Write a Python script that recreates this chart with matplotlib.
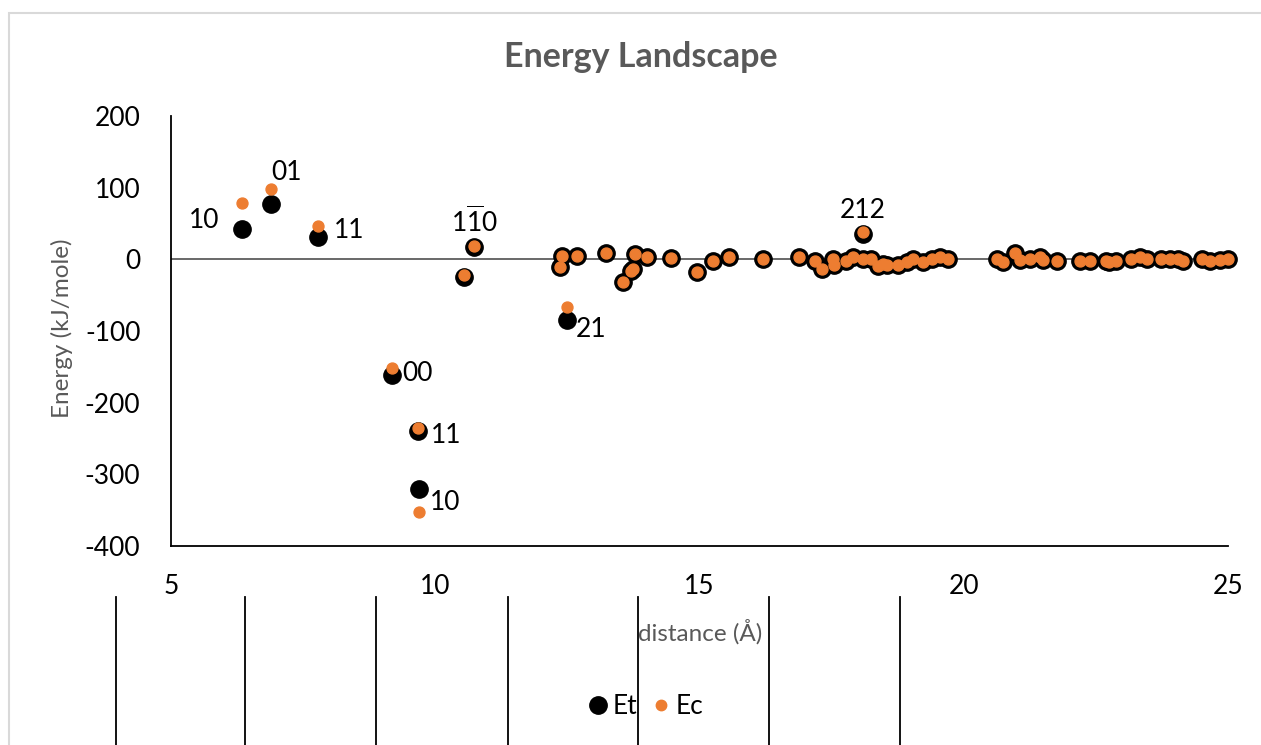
import matplotlib
matplotlib.use("Agg")
import matplotlib.pyplot as plt
from matplotlib.lines import Line2D
from matplotlib.patches import Rectangle

plt.rcParams['font.family'] = ['Lato', 'DejaVu Sans']
plt.rcParams['axes.unicode_minus'] = False

# Labelled lattice directions: distance (Å), total energy Et, Coulombic energy Ec
lab_dist = [6.34, 6.89, 7.78, 9.18, 9.67, 9.69, 10.54, 10.73, 12.49, 18.09]
lab_et = [43, 77, 31, -162, -240, -320, -24, 17, -84, 36]
lab_ec = [78, 98, 46, -151, -235, -352, -22, 19, -67, 38]
lab_text = ["10", "01", "11", "00", "11", "10", "",
            r"1$\overline{\mathregular{1}}$0", "21", "212"]
# label offsets (pixels) and alignment for each labelled point
lab_off = [(-22, 8), (0, 32), (16, 7), (10, 2), (13, -4), (11, -14),
           (0, 0), (1, 26), (9, -10), (0, 23)]
lab_ha = ["right", "left", "left", "left", "left", "left",
          "left", "center", "left", "center"]

# Remaining contacts where Et and Ec coincide
far_dist = [12.36, 12.39, 12.68, 13.24, 13.56, 13.71, 13.75, 13.78, 14.0, 14.47,
            14.95, 15.26, 15.55, 16.2, 16.88, 17.18, 17.31, 17.52, 17.55, 17.78,
            17.9, 18.1, 18.25, 18.38, 18.47, 18.54, 18.75, 18.92, 19.04, 19.23,
            19.39, 19.55, 19.71, 20.62, 20.74, 20.97, 21.06, 21.25, 21.44, 21.5,
            21.76, 22.2, 22.39, 22.7, 22.75, 22.89, 23.17, 23.33, 23.46, 23.74,
            23.9, 24.06, 24.15, 24.5, 24.66, 24.85, 25.0]
far_energy = [-11, 5, 5, 9, -32, -16, -13, 8, 3, 2,
              -17, -3, 3, 1, 3, -2, -13, 1, -8, -2,
              3, 0, 0, -9, -6, -8, -8, -4, 0, -4,
              0, 3, 0, 0, -4, 9, -1, 0, 3, -1,
              -2, -2, -3, -2, -4, -2, 1, 3, 0, 1,
              0, 0, -2, 0, -2, -1, 0]

dist = lab_dist + far_dist
et = lab_et + far_energy
ec = lab_ec + far_energy

W, H = 1261, 745
fig = plt.figure(figsize=(W / 100, H / 100), dpi=100)
fig.patch.set_facecolor("white")

# outer chart border
fig.add_artist(Rectangle((9 / W, -0.1), 1.2, (H - 13) / H + 0.1, transform=fig.transFigure,
                         fill=False, edgecolor="#d9d9d9", linewidth=1.5, zorder=0))

# table rules running under the chart
for xp in [116, 245, 376, 508, 638, 769, 900]:
    fig.add_artist(Line2D([xp / W, xp / W], [0, 1 - 597 / H], transform=fig.transFigure,
                          color="black", linewidth=1.3, zorder=0))

ax = fig.add_axes([171 / W, 1 - 546 / H, (1228 - 171) / W, (546 - 116) / H])
ax.set_xlim(5, 25)
ax.set_ylim(-400, 200)
ax.set_xticks([5, 10, 15, 20, 25])
ax.set_yticks([-400, -300, -200, -100, 0, 100, 200])
ax.tick_params(length=0, labelsize=19, colors="black")
ax.tick_params(axis="y", pad=22)
ax.tick_params(axis="x", pad=20)
for s in ["top", "right"]:
    ax.spines[s].set_visible(False)
for s in ["left", "bottom"]:
    ax.spines[s].set_linewidth(1.3)
    ax.spines[s].set_color("black")
ax.axhline(0, color="#404040", linewidth=1.1, zorder=1)

ax.scatter(dist, et, s=155, color="black", zorder=3, label="Et", clip_on=False)
ax.scatter(dist, ec, s=62, color="#ed7d31", zorder=4, label="Ec", clip_on=False)

for x, y, t, off, ha in zip(lab_dist, lab_et, lab_text, lab_off, lab_ha):
    if t:
        ax.annotate(t, (x, y), xytext=off, textcoords="offset pixels",
                    ha=ha, va="center", fontsize=19, color="black", zorder=5)

fig.text(641 / W, 1 - 57 / H, "Energy Landscape", ha="center", va="center",
         fontsize=24.5, fontweight="bold", color="#595959")
fig.text(62 / W, 1 - 328 / H, "Energy (kJ/mole)", ha="center", va="center",
         rotation=90, fontsize=17.5, color="#595959")
fig.text(700 / W, 1 - 632 / H, "distance (Å)", ha="center", va="center",
         fontsize=17.5, color="#595959")

handles = [Line2D([], [], marker="o", linestyle="", markersize=12.5, color="black"),
           Line2D([], [], marker="o", linestyle="", markersize=7.5, color="#ed7d31")]
fig.legend(handles, ["Et", "Ec"], loc="center", bbox_to_anchor=(644 / W, 1 - 707 / H),
           ncol=2, frameon=False, fontsize=19, handletextpad=0.05, columnspacing=0.4,
           handlelength=1.0)

fig.savefig("out.png", dpi=100)
